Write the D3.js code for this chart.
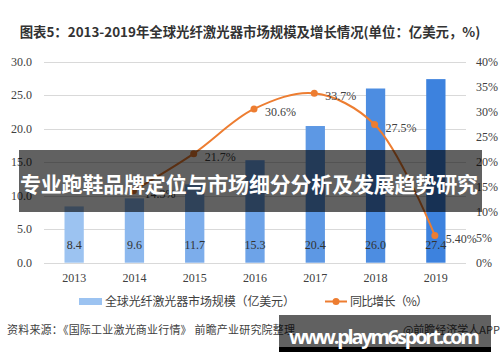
<!DOCTYPE html>
<html>
<head>
<meta charset="utf-8">
<script src="https://cdn.jsdelivr.net/npm/d3@7"></script>
<style>
  body { margin: 0; background: #fff; }
  svg { display: block; }
</style>
</head>
<body>
<svg width="500" height="362"></svg>
<script>
const years = ["2013", "2014", "2015", "2016", "2017", "2018", "2019"];
const marketSize = [8.4, 9.6, 11.7, 15.3, 20.4, 26.0, 27.4];
const sizeLabels = ["8.4", "9.6", "11.7", "15.3", "20.4", "26.0", "27.4"];
const growth = [null, 14.3, 21.7, 30.6, 33.7, 27.5, 5.40];
const growthLabels = ["", "14.3%", "21.7%", "30.6%", "33.7%", "27.5%", "5.40%"];
const leftTicks = [0, 5, 10, 15, 20, 25, 30];
const rightTicks = [0, 5, 10, 15, 20, 25, 30, 35, 40];

const TITLE = "图表5：2013-2019年全球光纤激光器市场规模及增长情况(单位：亿美元，%)";
const LEGEND_BAR = "全球光纤激光器市场规模（亿美元）";
const LEGEND_LINE = "同比增长（%）";
const SOURCE = "资料来源：《国际工业激光商业行情》 前瞻产业研究院整理";
const SOURCE_RIGHT = "@前瞻经济学人APP";
const BANNER = "专业跑鞋品牌定位与市场细分分析及发展趋势研究";
const SITE = "www.playm6sport.com";

const SERIF = "'Liberation Serif', 'Times New Roman', serif";
const CJK = "'Noto Sans CJK SC', 'Noto Sans', sans-serif";
const ORANGE = "#ed7d31";

const svg = d3.select("svg");

const x = d3.scaleBand().domain(years).range([44, 466]).paddingInner(0.68).paddingOuter(0.34);
const yL = d3.scaleLinear().domain([0, 30]).range([262.7, 61.7]);
const yR = d3.scaleLinear().domain([0, 40]).range([262.7, 61.7]);
const barColor = d3.scaleLinear().domain([0, years.length - 1]).range(["#9cc3f1", "#3d82de"]);

// title
svg.append("text")
  .attr("x", 250).attr("y", 37)
  .attr("text-anchor", "middle")
  .style("font-family", CJK).style("font-size", "13.4px").style("font-weight", "bold")
  .style("fill", "#333")
  .text(TITLE);

// gridlines
svg.append("g").selectAll("line").data(leftTicks).join("line")
  .attr("x1", 44).attr("x2", 466)
  .attr("y1", d => Math.round(yL(d)) + 0.5).attr("y2", d => Math.round(yL(d)) + 0.5)
  .attr("stroke", "#d9d9d9").attr("stroke-width", 1);

// left axis labels
svg.append("g").selectAll("text").data(leftTicks).join("text")
  .attr("x", 32).attr("y", d => yL(d) + 4)
  .attr("text-anchor", "end")
  .style("font-family", SERIF).style("font-size", "12px").style("fill", "#404040")
  .text(d => d.toFixed(1));

// right axis labels
svg.append("g").selectAll("text").data(rightTicks).join("text")
  .attr("x", 476).attr("y", d => yR(d) + 4)
  .style("font-family", SERIF).style("font-size", "12px").style("fill", "#404040")
  .text(d => d + "%");

// x labels
svg.append("g").selectAll("text").data(years).join("text")
  .attr("x", d => x(d) + x.bandwidth() / 2).attr("y", 282)
  .attr("text-anchor", "middle")
  .style("font-family", SERIF).style("font-size", "12px").style("fill", "#404040")
  .text(d => d);

// bars
svg.append("g").selectAll("rect").data(marketSize).join("rect")
  .attr("x", (d, i) => x(years[i]))
  .attr("y", d => yL(d))
  .attr("width", x.bandwidth())
  .attr("height", d => yL(0) - yL(d))
  .attr("fill", (d, i) => barColor(i));

svg.append("g").selectAll("text").data(sizeLabels).join("text")
  .attr("x", (d, i) => x(years[i]) + x.bandwidth() / 2)
  .attr("y", 249)
  .attr("text-anchor", "middle")
  .style("font-family", SERIF).style("font-size", "12px").style("fill", "#333")
  .text(d => d);

// growth line
const pts = growth.map((g, i) => ({ g, i })).filter(p => p.g !== null);
const cx = p => x(years[p.i]) + x.bandwidth() / 2 - 1;
const line = d3.line()
  .x(cx).y(p => yR(p.g))
  .curve(d3.curveCatmullRom.alpha(0.5));

svg.append("path").datum(pts)
  .attr("d", line)
  .attr("fill", "none").attr("stroke", ORANGE).attr("stroke-width", 2);

svg.append("g").selectAll("circle").data(pts).join("circle")
  .attr("cx", cx).attr("cy", p => yR(p.g)).attr("r", 3.5)
  .attr("fill", ORANGE);

svg.append("g").selectAll("text").data(pts).join("text")
  .attr("x", p => cx(p) + 11).attr("y", p => yR(p.g) + 7)
  .style("font-family", SERIF).style("font-size", "12px").style("fill", "#404040")
  .text(p => growthLabels[p.i]);

// legend
svg.append("rect").attr("x", 79).attr("y", 298).attr("width", 23).attr("height", 7).attr("fill", "#9cc3f1");
svg.append("text").attr("x", 105).attr("y", 306)
  .attr("textLength", 190)
  .style("font-family", CJK).style("font-size", "12px").style("fill", "#404040")
  .text(LEGEND_BAR);
svg.append("line").attr("x1", 325).attr("x2", 347).attr("y1", 301.5).attr("y2", 301.5)
  .attr("stroke", ORANGE).attr("stroke-width", 2);
svg.append("circle").attr("cx", 336).attr("cy", 301.5).attr("r", 3.5).attr("fill", ORANGE);
svg.append("text").attr("x", 350).attr("y", 306)
  .attr("textLength", 78)
  .style("font-family", CJK).style("font-size", "12px").style("fill", "#404040")
  .text(LEGEND_LINE);

// source
svg.append("text").attr("x", 7).attr("y", 334)
  .attr("textLength", 288)
  .style("font-family", CJK).style("font-size", "11px").style("fill", "#404040")
  .text(SOURCE);
svg.append("text").attr("x", 500).attr("y", 334).attr("text-anchor", "end")
  .style("font-family", CJK).style("font-size", "11px").style("fill", "#404040")
  .text(SOURCE_RIGHT);

// overlay banner
svg.append("rect").attr("x", 19).attr("y", 150).attr("width", 463).attr("height", 62)
  .attr("fill", "#000").attr("fill-opacity", 0.62);
svg.append("text").attr("x", 20).attr("y", 192)
  .attr("textLength", 458)
  .style("font-family", CJK).style("font-size", "21px").style("font-weight", "bold")
  .style("fill", "#fff")
  .text(BANNER);

// site box
svg.append("rect").attr("x", 279).attr("y", 315).attr("width", 212).attr("height", 32)
  .attr("fill", "#000").attr("fill-opacity", 0.62);
svg.append("rect").attr("x", 279).attr("y", 347).attr("width", 212).attr("height", 5)
  .attr("fill", "#000");
svg.append("text").attr("x", 289).attr("y", 344)
  .attr("textLength", 191)
  .style("font-family", "'Open Sans', 'DejaVu Sans', sans-serif").style("font-size", "20px").style("font-weight", "bold")
  .style("fill", "#fff")
  .text(SITE);
</script>
</body>
</html>
